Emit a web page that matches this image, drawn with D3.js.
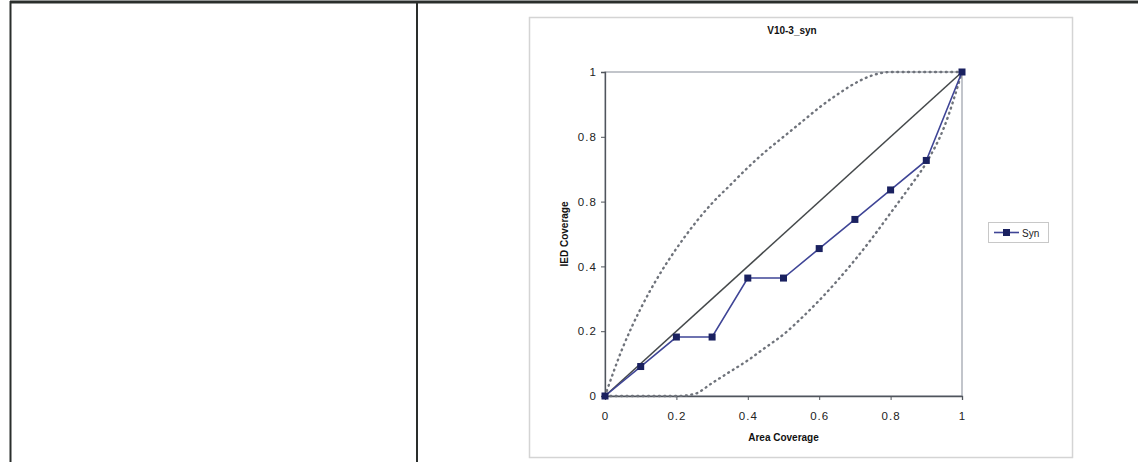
<!DOCTYPE html>
<html>
<head>
<meta charset="utf-8">
<script src="https://cdn.jsdelivr.net/npm/d3@7"></script>
<style>
  html, body { margin: 0; padding: 0; background: #fff; }
  svg { display: block; }
  text { font-family: Arial, "Liberation Sans", sans-serif; }
</style>
</head>
<body>
<svg id="chart" width="1138" height="462"></svg>
<script>
// Observed IED coverage against area coverage
const synX = [0, 0.1, 0.2, 0.3, 0.4, 0.5, 0.6, 0.7, 0.8, 0.9, 1];
const synY = [0, 0.091, 0.182, 0.182, 0.364, 0.364, 0.455, 0.545, 0.636, 0.727, 1];

// Envelope curves (upper and lower bound)
const bandX = [0, 0.05, 0.1, 0.15, 0.2, 0.25, 0.3, 0.35, 0.4, 0.45, 0.5, 0.55, 0.6, 0.65, 0.7, 0.75, 0.8, 0.85, 0.9, 0.95, 1];
const upperY = [0, 0.15, 0.27, 0.37, 0.455, 0.53, 0.595, 0.65, 0.705, 0.755, 0.80, 0.845, 0.89, 0.93, 0.965, 0.99, 1, 1, 1, 1, 1];
const lowerY = [0, 0, 0, 0, 0, 0.006, 0.04, 0.075, 0.11, 0.15, 0.19, 0.24, 0.295, 0.355, 0.42, 0.49, 0.565, 0.64, 0.72, 0.83, 1];

// Reference diagonal
const diagX = [0, 1];
const diagY = [0, 1];

const xTicks = [0, 0.2, 0.4, 0.6, 0.8, 1];
const xTickLabels = ["0", "0.2", "0.4", "0.6", "0.8", "1"];
const yTicks = [0, 0.2, 0.4, 0.6, 0.8, 1];
const yTickLabels = ["0", "0.2", "0.4", "0.8", "0.8", "1"];

const titleText = "V10-3_syn";
const xTitle = "Area Coverage";
const yTitle = "IED Coverage";
const seriesName = "Syn";

const svg = d3.select("#chart");

// Table cell borders around the chart
svg.append("line").attr("x1", 10).attr("x2", 1138).attr("y1", 2).attr("y2", 2)
  .attr("stroke", "#2a2e2c").attr("stroke-width", 3);
svg.append("line").attr("x1", 10.5).attr("x2", 10.5).attr("y1", 1).attr("y2", 462)
  .attr("stroke", "#2a2e2c").attr("stroke-width", 2);
svg.append("line").attr("x1", 417).attr("x2", 417).attr("y1", 1).attr("y2", 462)
  .attr("stroke", "#2a2e2c").attr("stroke-width", 2);

// Chart frame
svg.append("rect").attr("x", 529.5).attr("y", 17.5).attr("width", 543).attr("height", 440)
  .attr("fill", "#fff").attr("stroke", "#d4d4d4").attr("stroke-width", 1.5);

const plotL = 605, plotR = 962, plotT = 72, plotB = 396;
const x = d3.scaleLinear().domain([0, 1]).range([plotL, plotR]);
const y = d3.scaleLinear().domain([0, 1]).range([plotB, plotT]);

// Plot area border
svg.append("rect").attr("x", plotL).attr("y", plotT).attr("width", plotR - plotL).attr("height", plotB - plotT)
  .attr("fill", "none").attr("stroke", "#9a9fa8").attr("stroke-width", 1.2);

// Axes
const xAxis = d3.axisBottom(x).tickValues(xTicks).tickSize(4).tickFormat((d, i) => xTickLabels[i]);
const yAxis = d3.axisLeft(y).tickValues(yTicks).tickSize(4).tickFormat((d, i) => yTickLabels[i]);

const gx = svg.append("g").attr("transform", `translate(0,${plotB})`).call(xAxis);
const gy = svg.append("g").attr("transform", `translate(${plotL},0)`).call(yAxis);
[gx, gy].forEach(g => {
  g.select(".domain").attr("stroke", "#50555c").attr("stroke-width", 1.3);
  g.selectAll(".tick line").attr("stroke", "#50555c");
  g.selectAll(".tick text").attr("fill", "#222").attr("font-size", 11.5).style("letter-spacing", "1px");
});
gx.selectAll(".tick text").attr("dy", "1.45em");
gy.selectAll(".tick text").attr("dx", "-0.1em");

const line = d3.line().x(d => x(d[0])).y(d => y(d[1]));
const smooth = d3.line().x(d => x(d[0])).y(d => y(d[1])).curve(d3.curveMonotoneX);

// Envelope dotted curves
[upperY, lowerY].forEach(vals => {
  svg.append("path")
    .attr("d", smooth(bandX.map((v, i) => [v, vals[i]])))
    .attr("fill", "none").attr("stroke", "#6f737b").attr("stroke-width", 2.4)
    .attr("stroke-dasharray", "0.8,4.6").attr("stroke-linecap", "round");
});

// Diagonal
svg.append("path")
  .attr("d", line(diagX.map((v, i) => [v, diagY[i]])))
  .attr("fill", "none").attr("stroke", "#45494b").attr("stroke-width", 1.6);

// Syn series
const synPts = synX.map((v, i) => [v, synY[i]]);
svg.append("path").attr("d", line(synPts))
  .attr("fill", "none").attr("stroke", "#3f4596").attr("stroke-width", 1.6);
svg.selectAll("rect.mk").data(synPts).enter().append("rect").attr("class", "mk")
  .attr("x", d => x(d[0]) - 3.5).attr("y", d => y(d[1]) - 3.5)
  .attr("width", 7).attr("height", 7).attr("fill", "#1a2160");

// Title and axis titles
svg.append("text").attr("x", 792).attr("y", 34).attr("text-anchor", "middle")
  .attr("font-size", 10).attr("font-weight", "bold").attr("fill", "#111").text(titleText);
svg.append("text").attr("x", (plotL + plotR) / 2).attr("y", 441).attr("text-anchor", "middle")
  .attr("font-size", 10).attr("font-weight", "bold").attr("fill", "#111").text(xTitle);
svg.append("text").attr("transform", `translate(568,${(plotT + plotB) / 2}) rotate(-90)`)
  .attr("text-anchor", "middle").attr("font-size", 10).attr("font-weight", "bold").attr("fill", "#111").text(yTitle);

// Legend
const lg = svg.append("g").attr("transform", "translate(988,222)");
lg.append("rect").attr("x", 0.5).attr("y", 0.5).attr("width", 60).attr("height", 20)
  .attr("fill", "#fff").attr("stroke", "#c8c8c8");
lg.append("line").attr("x1", 6).attr("x2", 31).attr("y1", 10.5).attr("y2", 10.5)
  .attr("stroke", "#3f4596").attr("stroke-width", 1.6);
lg.append("rect").attr("x", 15).attr("y", 7).attr("width", 7).attr("height", 7).attr("fill", "#1a2160");
lg.append("text").attr("x", 34).attr("y", 14.5).attr("font-size", 10).attr("fill", "#222").text(seriesName);
</script>
</body>
</html>
